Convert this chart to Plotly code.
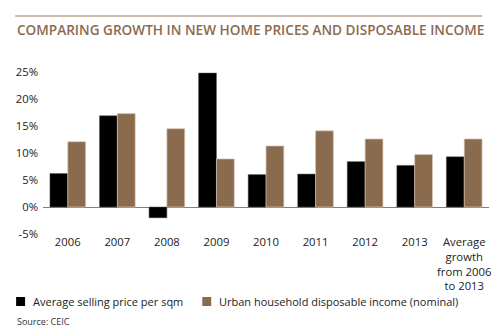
import plotly.graph_objects as go

# Annual growth rates (%)
categories = ["2006", "2007", "2008", "2009", "2010", "2011", "2012", "2013",
              "Average<br>growth<br>from 2006<br>to 2013"]
price_per_sqm = [6.2, 16.9, -2.0, 24.8, 6.0, 6.1, 8.4, 7.7, 9.3]
disposable_income = [12.1, 17.3, 14.5, 8.9, 11.3, 14.1, 12.6, 9.7, 12.6]
series_names = ["Average selling price per sqm",
                "Urban household disposable income (nominal)"]
y_ticks = [-5, 0, 5, 10, 15, 20, 25]
y_tick_text = ["-5%", "0%", "5%", "10%", "15%", "20%", "25%"]

W, H = 500, 334
ML, MR, MT, MB = 43, 9, 72, 100
PW, PH = W - ML - MR, H - MT - MB


def px_x(x):
    return (x - ML) / PW


def px_y(y):
    return (H - MB - y) / PH


FONT = "Open Sans"
BLACK = "#000000"
BROWN = "#8b6b4e"
TEXT = "#222222"

fig = go.Figure()
fig.add_trace(go.Bar(
    x=categories, y=price_per_sqm, name=series_names[0],
    marker=dict(color=BLACK, line=dict(color="#555555", width=0.5)),
))
fig.add_trace(go.Bar(
    x=categories, y=disposable_income, name=series_names[1],
    marker=dict(color=BROWN, line=dict(color="#d9c9b8", width=0.7)),
))

fig.update_layout(
    width=W, height=H,
    margin=dict(l=ML, r=MR, t=MT, b=MB, pad=0),
    paper_bgcolor="white", plot_bgcolor="white",
    barmode="group", bargap=0.28, bargroupgap=0,
    font=dict(family=FONT, size=11, color=TEXT),
    showlegend=False,
    xaxis=dict(
        showgrid=False, showline=False, ticks="",
        tickfont=dict(size=11.3, color=TEXT),
    ),
    yaxis=dict(
        range=[-5, 25], tickvals=y_ticks, ticktext=y_tick_text,
        showgrid=False, showline=False, ticks="",
        zeroline=True, zerolinecolor="#808080", zerolinewidth=1.2,
        tickfont=dict(size=11.3, color=TEXT),
        ticklabelstandoff=4,
    ),
)

# Key below the chart: small square swatch followed by the series name
key_items = [(16, BLACK, series_names[0]), (203, BROWN, series_names[1])]
for x0, colour, label in key_items:
    fig.add_shape(type="rect", xref="paper", yref="paper",
                  x0=px_x(x0), x1=px_x(x0 + 9), y0=px_y(297), y1=px_y(306),
                  fillcolor=colour, line=dict(width=0))
    fig.add_annotation(
        text=label, xref="paper", yref="paper",
        x=px_x(x0 + 15), y=px_y(301.5), xanchor="left", yanchor="middle",
        showarrow=False, font=dict(family=FONT, size=11, color=TEXT),
    )

# Title rule and heading
fig.add_shape(type="line", xref="paper", yref="paper",
              x0=px_x(15), x1=px_x(484), y0=px_y(16), y1=px_y(16),
              line=dict(color="#bfa994", width=1.5))
fig.add_annotation(
    text="COMPARING GROWTH IN NEW HOME PRICES AND DISPOSABLE INCOME",
    xref="paper", yref="paper", x=px_x(15), y=px_y(30),
    xanchor="left", yanchor="middle", showarrow=False,
    font=dict(family=FONT, size=13.6, color="#8b6a4f", weight=600),
)
fig.add_annotation(
    text="Source: CEIC", xref="paper", yref="paper",
    x=px_x(15), y=px_y(321), xanchor="left", yanchor="middle",
    showarrow=False, font=dict(family=FONT, size=9, color="#333333"),
)

fig.write_html("out.html")
